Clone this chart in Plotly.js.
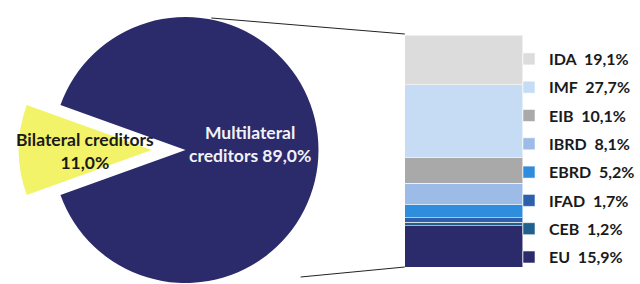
<!DOCTYPE html>
<html>
<head>
<meta charset="utf-8">
<script src="https://cdn.plot.ly/plotly-3.0.1.min.js"></script>
<style>
html,body{margin:0;padding:0;overflow:hidden;background:#fff;}
#chart{width:640px;height:284px;}
</style>
</head>
<body>
<div id="chart"></div>
<script>
// Pie data
const pieLabels = ['Bilateral creditors', 'Multilateral creditors'];
const pieValues = [11.0, 89.0];
const pieColors = ['#f3f36a', '#2b2a6b'];

// Breakdown of multilateral creditors (stack order bottom to top)
const barCategories = ['EU', 'CEB', 'IFAD', 'EBRD', 'IBRD', 'EIB', 'IMF', 'IDA'];
const barValues = [15.9, 1.2, 1.7, 5.2, 8.1, 10.1, 27.7, 19.1];
const barColors = ['#2b2a6b', '#215f8c', '#2e5faa', '#2f8ddd', '#9cbbe6', '#a9a9a9', '#c6dcf4', '#dcdcdc'];

const fmt = v => v.toFixed(1).replace('.', ',') + '%';
const total = barValues.reduce((a, b) => a + b, 0);

const transparent = 'rgba(0,0,0,0)';
const rotation = 270 - pieValues[0] / 100 * 360 / 2;
const FONT = 'Lato, "Open Sans", sans-serif';

const traces = [];

// Main pie (multilateral slice)
traces.push({
  type: 'pie', labels: pieLabels, values: pieValues, sort: false,
  direction: 'clockwise', rotation: rotation,
  marker: {colors: [transparent, pieColors[1]], line: {width: 0}},
  textinfo: 'none', hoverinfo: 'label+percent', showlegend: false,
  domain: {x: [53/640, 321/640], y: [0, 268/284]}
});
// Exploded pie (bilateral slice)
traces.push({
  type: 'pie', labels: pieLabels, values: pieValues, sort: false,
  direction: 'clockwise', rotation: rotation,
  marker: {colors: [pieColors[0], transparent], line: {width: 0}},
  textinfo: 'none', hoverinfo: 'label+percent', showlegend: false,
  domain: {x: [19/640, 287/640], y: [0, 268/284]}
});

barCategories.forEach((c, i) => {
  traces.push({
    type: 'bar', x: [0], y: [barValues[i]], name: c + '  ' + fmt(barValues[i]),
    legendgroup: c, legendrank: barCategories.length - i, width: 1,
    marker: {color: barColors[i], line: {color: 'rgba(255,255,255,0.55)', width: 1}},
    hoverinfo: 'name', xaxis: 'x', yaxis: 'y'
  });
});

const layout = {
  width: 640, height: 284,
  margin: {l: 0, r: 0, t: 0, b: 0},
  paper_bgcolor: '#fff', plot_bgcolor: 'rgba(0,0,0,0)',
  barmode: 'stack',
  font: {family: FONT, size: 15, color: '#1a1a1a'},
  xaxis: {domain: [408/640, 527/640], range: [-0.5, 0.5], visible: false, fixedrange: true},
  yaxis: {domain: [17/284, 249/284], range: [0, total], visible: false, fixedrange: true},
  showlegend: true,
  legend: {
    x: 513/640, y: 1 - 42/284, xanchor: 'left', yanchor: 'top',
    traceorder: 'grouped', tracegroupgap: 4.5,
    font: {family: FONT, size: 16, color: '#1a1a1a', weight: 'bold'},
    bgcolor: 'rgba(0,0,0,0)', itemclick: false, itemdoubleclick: false
  },
  shapes: [
    {type: 'line', xref: 'paper', yref: 'paper', x0: 213/640, y0: 1 - 18/284, x1: 408/640, y1: 1 - 34/284,
     line: {color: '#222', width: 1}},
    {type: 'line', xref: 'paper', yref: 'paper', x0: 303/640, y0: 1 - 277/284, x1: 408/640, y1: 1 - 267/284,
     line: {color: '#222', width: 1}}
  ],
  annotations: [
    {xref: 'paper', yref: 'paper', x: 252/640, y: 1 - 144/284, xanchor: 'center', yanchor: 'middle',
     text: '<b>Multilateral<br>creditors ' + fmt(pieValues[1]) + '</b>', showarrow: false,
     font: {family: FONT, size: 17.5, color: '#f2f2f7'}},
    {xref: 'paper', yref: 'paper', x: 86/640, y: 1 - 151/284, xanchor: 'center', yanchor: 'middle',
     text: '<b>' + pieLabels[0] + '<br>' + fmt(pieValues[0]) + '</b>', showarrow: false,
     font: {family: FONT, size: 17.5, color: '#1a1a1a'}}
  ]
};

Plotly.newPlot('chart', traces, layout, {displayModeBar: false});
</script>
</body>
</html>
